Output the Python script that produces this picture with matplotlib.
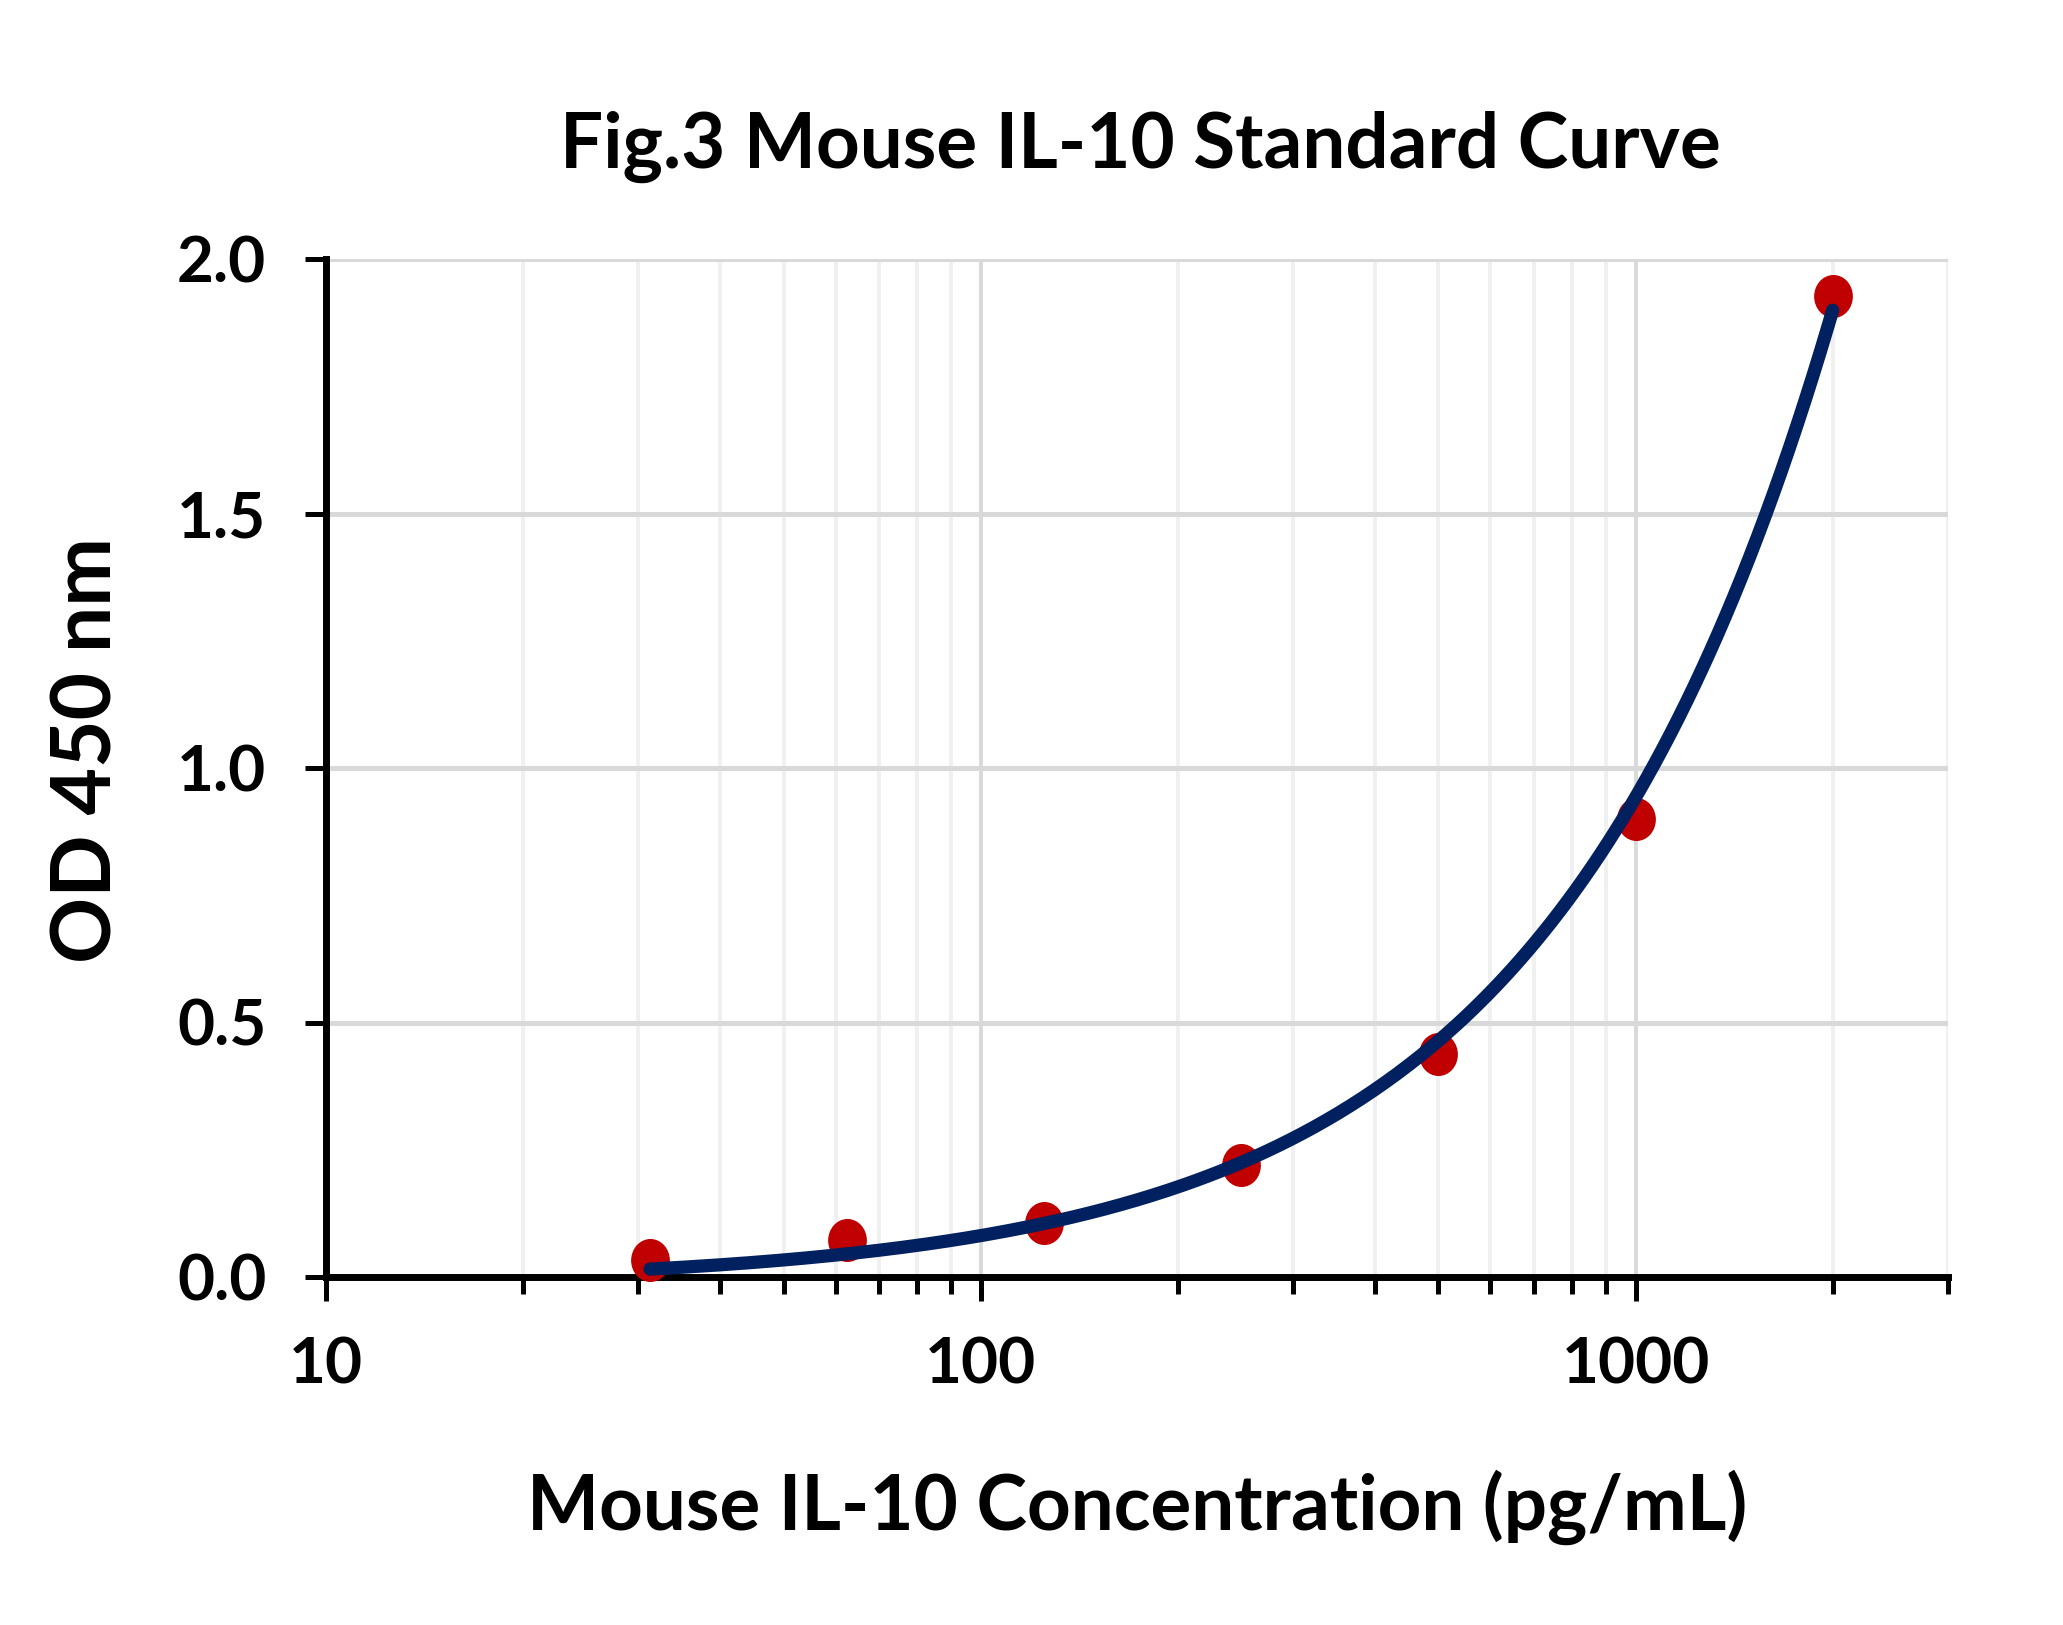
import numpy as np
import matplotlib
matplotlib.use("Agg")
import matplotlib.pyplot as plt
from matplotlib.path import Path
from matplotlib.transforms import Affine2D
from matplotlib.ticker import LogLocator, FixedLocator, NullFormatter, FixedFormatter

# ---- data ----
concentration = [31.25, 62.5, 125, 250, 500, 1000, 2000]
od450 = [0.034, 0.073, 0.106, 0.220, 0.438, 0.899, 1.927]
y_ticks = [0.0, 0.5, 1.0, 1.5, 2.0]
y_tick_labels = ["0.0", "0.5", "1.0", "1.5", "2.0"]
x_ticks = [10, 100, 1000]
x_tick_labels = ["10", "100", "1000"]
title = "Fig.3 Mouse IL-10 Standard Curve"
xlabel = "Mouse IL-10 Concentration (pg/mL)"
ylabel = "OD 450 nm"

plt.rcParams['font.family'] = ['Lato', 'DejaVu Sans']
plt.rcParams['font.weight'] = 'bold'

W, H = 2063, 1625
fig = plt.figure(figsize=(W / 100, H / 100), dpi=100)
L, R, T, B = 326, 1948, 259, 1277
ax = fig.add_axes([L / W, 1 - B / H, (R - L) / W, (B - T) / H])

ax.set_xscale('log')
ax.set_xlim(10, 3000)
ax.set_ylim(0, 2.0)

ax.xaxis.set_major_locator(FixedLocator(x_ticks))
ax.xaxis.set_major_formatter(FixedFormatter(x_tick_labels))
ax.xaxis.set_minor_locator(LogLocator(base=10, subs=np.arange(2, 10)))
ax.xaxis.set_minor_formatter(NullFormatter())
ax.yaxis.set_major_locator(FixedLocator(y_ticks))
ax.yaxis.set_major_formatter(FixedFormatter(y_tick_labels))
ax.grid(True, which='major', axis='y', color='#d9d9d9', lw=3.6, zorder=0)
ax.grid(True, which='major', axis='x', color='#d9d9d9', lw=2.8, zorder=0)
ax.grid(True, which='minor', axis='x', color='#f0f0f0', lw=2.8, zorder=0)
ax.set_axisbelow(True)

for s in ['top', 'right']:
    ax.spines[s].set_visible(False)
for s in ['left', 'bottom']:
    ax.spines[s].set_linewidth(5)
    ax.spines[s].set_color('black')
    ax.spines[s].set_capstyle('projecting')

ax.tick_params(axis='x', which='major', direction='out', length=17, width=3.6,
               labelsize=46, pad=26, colors='black')
ax.tick_params(axis='x', which='minor', direction='out', length=12, width=3.6)
ax.tick_params(axis='y', which='major', direction='out', length=15, width=3.6,
               labelsize=46, pad=28)
ax.tick_params(axis='y', which='minor', left=False)
for lab in ax.get_xticklabels() + ax.get_yticklabels():
    lab.set_fontweight('bold')

# ellipse marker (slightly taller than wide)
circ = Path.unit_circle()
ell = circ.transformed(Affine2D().scale(0.9, 1.0))

ax.plot(concentration, od450, linestyle='none', marker=ell, markersize=31,
        color='#c00000', markeredgewidth=0, zorder=3, clip_on=False)

# linear fit of the standard points
coef = np.polyfit(concentration, od450, 1)
xf = np.logspace(np.log10(concentration[0]), np.log10(concentration[-1]), 300)
ax.plot(xf, np.polyval(coef, xf), color='#002060', lw=9.5,
        solid_capstyle='round', zorder=4, clip_on=False)

fig.text(1140 / W, 1 - 168 / H, title, ha='center', va='baseline',
         fontsize=55, fontweight='bold')
fig.text(1137 / W, 1 - 1530 / H, xlabel, ha='center', va='baseline',
         fontsize=55, fontweight='bold')
fig.text(88 / W, 1 - 750 / H, ylabel, ha='center', va='center', rotation=90,
         fontsize=59, fontweight='bold')

fig.savefig('out.png', dpi=100, facecolor='white')
